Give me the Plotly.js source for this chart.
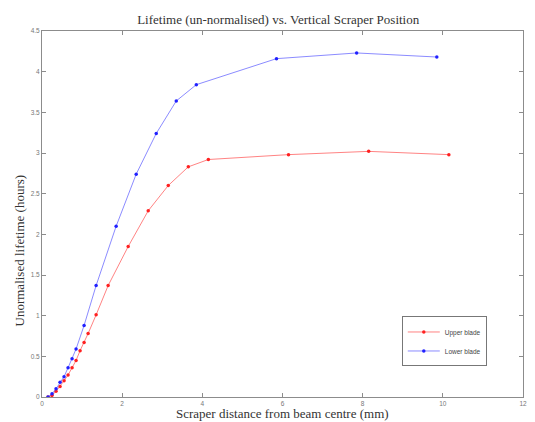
<!DOCTYPE html>
<html>
<head>
<meta charset="utf-8">
<script src="https://cdn.plot.ly/plotly-3.0.1.min.js"></script>
<style>html,body{margin:0;padding:0;background:#fff;}#chart{width:535px;height:422px;}</style>
</head>
<body>
<div id="chart"></div>
<script>
const upperX = [0.15,0.25,0.35,0.45,0.55,0.65,0.75,0.85,0.95,1.05,1.15,1.35,1.65,2.15,2.65,3.15,3.65,4.15,6.15,8.15,10.15];
const upperY = [0.00,0.02,0.07,0.13,0.20,0.27,0.36,0.45,0.57,0.67,0.78,1.01,1.37,1.85,2.29,2.60,2.83,2.92,2.98,3.02,2.98];
const lowerX = [0.15,0.25,0.35,0.45,0.55,0.65,0.75,0.85,1.05,1.35,1.85,2.35,2.85,3.35,3.85,5.85,7.85,9.85];
const lowerY = [0.00,0.04,0.10,0.18,0.25,0.36,0.47,0.59,0.88,1.37,2.10,2.74,3.24,3.64,3.84,4.16,4.23,4.18];
const xTicks = [0,2,4,6,8,10,12];
const yTicks = [0,0.5,1,1.5,2,2.5,3,3.5,4,4.5];
const titleText = 'Lifetime (un-normalised) vs. Vertical Scraper Position';
const xTitle = 'Scraper distance from beam centre (mm)';
const yTitle = 'Unormalised lifetime (hours)';

const traces = [
  {x: upperX, y: upperY, name: 'Upper blade', type: 'scatter', mode: 'lines+markers',
   line: {color: 'rgba(255,90,90,0.75)', width: 1}, marker: {color: '#ff2020', size: 3.5}},
  {x: lowerX, y: lowerY, name: 'Lower blade', type: 'scatter', mode: 'lines+markers',
   line: {color: 'rgba(100,100,255,0.75)', width: 1}, marker: {color: '#2020ff', size: 3.5}}
];
const axisCommon = {showgrid: false, zeroline: false, showline: true, linecolor: '#8c8c8c', linewidth: 1,
  mirror: 'ticks', ticks: 'inside', ticklen: 4, tickcolor: '#8c8c8c',
  tickfont: {family: 'Liberation Sans, Arial', size: 6.5, color: '#777'}};
const layout = {
  width: 535, height: 422,
  paper_bgcolor: '#fff', plot_bgcolor: '#fff',
  margin: {l: 42, r: 12, t: 31, b: 25},
  title: {text: titleText, font: {family: 'Liberation Serif, Times New Roman', size: 13, color: '#333'},
    x: 0.52, xanchor: 'center', y: 0.955, yanchor: 'middle'},
  xaxis: Object.assign({}, axisCommon, {range: [0, 12], tickvals: xTicks, ticktext: xTicks.map(String)}),
  yaxis: Object.assign({}, axisCommon, {range: [0, 4.5], tickvals: yTicks, ticktext: yTicks.map(String)}),
  showlegend: true,
  legend: {x: 0.748, y: 0.22, xanchor: 'left', yanchor: 'top', bgcolor: '#fff', bordercolor: '#777', borderwidth: 1,
    font: {family: 'Liberation Sans, Arial', size: 6.5, color: '#444'}, itemwidth: 32, tracegroupgap: 0},
  annotations: [
    {text: xTitle, xref: 'paper', yref: 'paper', x: 0.5, y: -0.045, xanchor: 'center', yanchor: 'middle', showarrow: false,
     font: {family: 'Liberation Serif, Times New Roman', size: 13, color: '#333'}},
    {text: yTitle, xref: 'paper', yref: 'paper', x: -0.046, y: 0.40, xanchor: 'center', yanchor: 'middle', textangle: -90, showarrow: false,
     font: {family: 'Liberation Serif, Times New Roman', size: 13, color: '#333'}}
  ]
};
Plotly.newPlot('chart', traces, layout, {displayModeBar: false, staticPlot: true});
</script>
</body>
</html>
